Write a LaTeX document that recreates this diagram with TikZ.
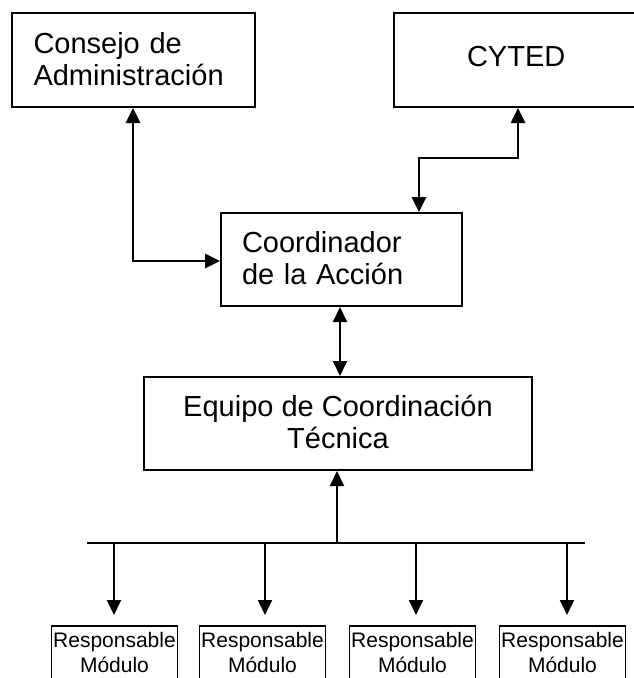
\documentclass[tikz,border=0pt]{standalone}
\usepackage{fontspec}
\setmainfont{Liberation Sans}
\usetikzlibrary{arrows.meta,calc}
\begin{document}
\begin{tikzpicture}[x=1pt,y=-1pt,
  box/.style={draw, line width=1.6pt, inner ysep=0pt, outer sep=1pt},
  big/.style={font=\fontsize{29}{32}\selectfont},
  small/.style={font=\fontsize{21}{25}\selectfont},
  tip/.style={-{Triangle[length=15pt,width=14pt]}},
  dtip/.style={{Triangle[length=15pt,width=14pt]}-{Triangle[length=15pt,width=14pt]}},
  heavy/.style={line width=2.6pt},
  light/.style={line width=1.9pt},
  resp/.style={box, small, minimum width=126pt, minimum height=60pt, inner xsep=0pt, align=center, text depth=8pt}
]
\useasboundingbox (0,0) rectangle (633,678);

% boxes
\node[box,big,minimum width=243pt,minimum height=94pt,text width=200pt,inner xsep=21.5pt,align=left,text depth=35pt] (cons) at (133.5,60) {Consejo de\\Administración};
\node[box,big,minimum width=266pt,minimum height=94pt,text width=120pt,inner xsep=73pt,align=left,text depth=7pt] (cyted) at (527,60) {CYTED};
\node[box,big,minimum width=241pt,minimum height=93pt,text width=199pt,inner xsep=21pt,align=left,text depth=35pt] (coord) at (341.5,259.5) {Coordinador\\de la Acción};
\node[box,big,minimum width=388pt,minimum height=93pt,inner xsep=0pt,align=center,text depth=4pt] (equipo) at (338,423.5) {Equipo de Coordinación\\Técnica};

\node[resp] (r1) at (114.5,656) {Responsable\\Módulo};
\node[resp] (r2) at (262.5,656) {Responsable\\Módulo};
\node[resp] (r3) at (412.5,656) {Responsable\\Módulo};
\node[resp] (r4) at (562.5,656) {Responsable\\Módulo};

% helper coordinates
\coordinate (c1) at (133,261);
\coordinate (k1) at (518,158);
\coordinate (k2) at (419,158);
\coordinate (m) at (340,340);
\coordinate (busL) at (87,543);
\coordinate (busR) at (585,543);
\coordinate (bu) at (337,543);
\coordinate (b1) at (114,543);
\coordinate (b2) at (265,543);
\coordinate (b3) at (416,543);
\coordinate (b4) at (567,543);

% connectors
\draw[heavy,dtip] (cons.south -| c1) -- (c1) -- (c1 -| coord.west);
\draw[heavy,dtip] (cyted.south -| k1) -- (k1) -- (k2) -- (k2 |- coord.north);
\draw[light,dtip] (coord.south -| m) -- (equipo.north -| m);
\draw[light] (busL) -- (busR);
\draw[light,tip] (bu) -- (equipo.south -| bu);
\draw[light,tip,shorten >=10pt] (b1) -- (b1 |- r1.north);
\draw[light,tip,shorten >=10pt] (b2) -- (b2 |- r2.north);
\draw[light,tip,shorten >=10pt] (b3) -- (b3 |- r3.north);
\draw[light,tip,shorten >=10pt] (b4) -- (b4 |- r4.north);
\end{tikzpicture}
\end{document}
